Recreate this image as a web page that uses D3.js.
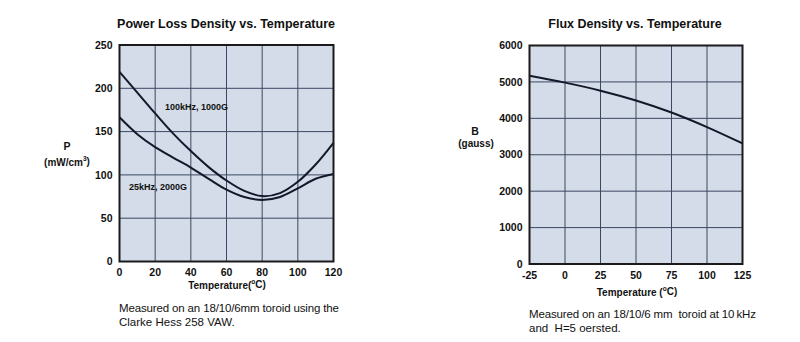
<!DOCTYPE html>
<html><head><meta charset="utf-8">
<script src="https://cdn.jsdelivr.net/npm/d3@7"></script>
<style>body{margin:0;background:#fff}svg{display:block;font-family:"Liberation Sans",Arial,Helvetica,sans-serif}</style>
</head><body><svg id="c" width="800" height="342"></svg>
<script>
// Left chart data
const tempLeft = [0,10,20,30,40,50,60,70,80,90,100,110,120];
const p100k = [219,195,171,148,127.5,109,93.5,81.5,75.5,79,92,112,137];
const p25k  = [166.5,147,132,120,108.5,95.5,83,74.5,71,74.5,84.5,95.5,101];
const xTicksLeft = [0,20,40,60,80,100,120];
const yTicksLeft = [0,50,100,150,200,250];
// Right chart data
const tempRight = [-25,0,25,50,75,100,125];
const fluxB = [5170,4980,4760,4490,4160,3760,3310];
const xTicksRight = [-25,0,25,50,75,100,125];
const yTicksRight = [0,1000,2000,3000,4000,5000,6000];

const svg = d3.select("#c");
const fill = "#d3dce8", gridC = "#3c4862";

function panel(o){
  const x = d3.scaleLinear().domain(o.xd).range([o.x0,o.x1]);
  const y = d3.scaleLinear().domain(o.yd).range([o.y0,o.y1]);
  const g = svg.append("g");
  g.append("rect").attr("x",o.x0).attr("y",o.y1).attr("width",o.x1-o.x0).attr("height",o.y0-o.y1).attr("fill",fill);
  g.append("g").selectAll("line").data(o.xt).join("line")
    .attr("x1",d=>x(d)).attr("x2",d=>x(d)).attr("y1",o.y1).attr("y2",o.y0)
    .attr("stroke",gridC).attr("stroke-width",1);
  g.append("g").selectAll("line").data(o.yt).join("line")
    .attr("x1",o.x0).attr("x2",o.x1).attr("y1",d=>y(d)).attr("y2",d=>y(d))
    .attr("stroke",gridC).attr("stroke-width",1);
  const line = d3.line().x(d=>x(d[0])).y(d=>y(d[1])).curve(d3.curveCatmullRom.alpha(0.5));
  o.series.forEach(s=>{
    g.append("path").attr("d",line(s)).attr("fill","none").attr("stroke","#15182a").attr("stroke-width",2);
  });
  g.append("rect").attr("x",o.x0).attr("y",o.y1).attr("width",o.x1-o.x0).attr("height",o.y0-o.y1)
    .attr("fill","none").attr("stroke","#1a1a1a").attr("stroke-width",2);
  g.append("g").selectAll("text").data(o.yt).join("text")
    .attr("x",o.x0-7).attr("y",d=>y(d)).attr("dy","0.35em").attr("text-anchor","end")
    .attr("font-size",10.5).attr("font-weight","bold").attr("fill","#111").text(d=>d);
  g.append("g").selectAll("text").data(o.xt).join("text")
    .attr("x",d=>x(d)).attr("y",o.y0+11).attr("dy","0.35em").attr("text-anchor","middle")
    .attr("font-size",10.5).attr("font-weight","bold").attr("fill","#111").text(d=>d);
  return {x,y,g};
}

panel({x0:119.5,x1:333.5,y0:261.5,y1:45,xd:[0,120],yd:[0,250],xt:xTicksLeft,yt:yTicksLeft,
  series:[tempLeft.map((t,i)=>[t,p100k[i]]), tempLeft.map((t,i)=>[t,p25k[i]])]});
panel({x0:529.5,x1:742.5,y0:264,y1:45.5,xd:[-25,125],yd:[0,6000],xt:xTicksRight,yt:yTicksRight,
  series:[tempRight.map((t,i)=>[t,fluxB[i]])]});

function txt(x,y,s,size,weight,anchor){
  return svg.append("text").attr("x",x).attr("y",y).attr("dy","0.35em").attr("font-size",size)
    .attr("font-weight",weight||"normal").attr("text-anchor",anchor||"start").attr("fill","#111").text(s);
}
txt(226,24,"Power Loss Density vs. Temperature",12.5,"bold","middle");
txt(635,24,"Flux Density vs. Temperature",12.5,"bold","middle");
txt(165,107,"100kHz, 1000G",9,"bold");
txt(129,187,"25kHz, 2000G",9,"bold");
txt(67,146,"P",10.5,"bold","middle");
const t1 = txt(67,162,"(mW/cm",10,"bold","middle");
t1.append("tspan").attr("font-size",6.5).attr("dy","-0.7em").text("3");
t1.append("tspan").attr("dy","0.45em").text(")");
txt(475,131,"B",10.5,"bold","middle");
txt(476,143.5,"(gauss)",10,"bold","middle");
const xl = txt(227,285,"Temperature(",10,"bold","middle");
xl.append("tspan").attr("font-size",6.5).attr("dy","-0.7em").text("o");
xl.append("tspan").attr("dy","0.45em").text("C)");
const xr = txt(637,292,"Temperature (",10,"bold","middle");
xr.append("tspan").attr("font-size",6.5).attr("dy","-0.7em").text("o");
xr.append("tspan").attr("dy","0.45em").text("C)");
txt(119,308,"Measured on an 18/10/6mm toroid using the",11.5).attr("textLength",220);
txt(119,321.5,"Clarke Hess 258 VAW.",11.5);
txt(529,313.5,"Measured on an 18/10/6 mm\u00a0 toroid at 10\u2009kHz",11.5).attr("textLength",227);
txt(529,327.5,"and\u00a0 H=5 oersted.",11.5);
</script></body></html>
